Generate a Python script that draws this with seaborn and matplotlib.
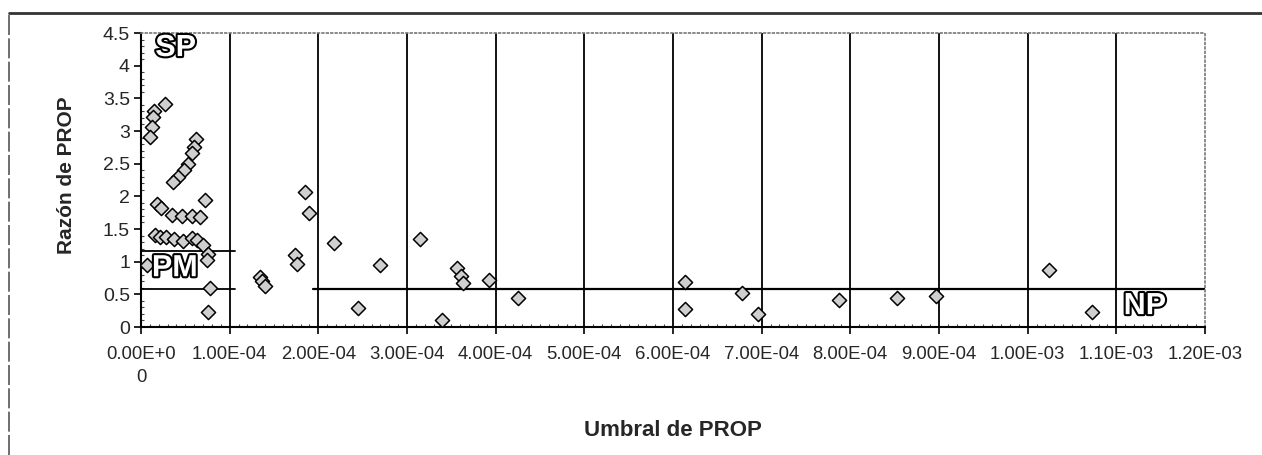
import matplotlib
matplotlib.use("Agg")
import matplotlib.pyplot as plt
import matplotlib.patheffects as pe
from matplotlib.lines import Line2D
from matplotlib.ticker import MultipleLocator
import seaborn as sns
import pandas as pd

# ---- data ----
umbral = [2.7e-5, 1.5e-5, 1.3e-5, 1.2e-5, 1.0e-5, 6.2e-5, 6.0e-5, 5.7e-5, 5.3e-5, 4.8e-5,
          4.2e-5, 3.6e-5, 7.2e-5, 1.8e-5, 2.3e-5, 3.5e-5, 4.6e-5, 5.7e-5, 6.7e-5, 1.6e-5,
          2.1e-5, 2.8e-5, 3.7e-5, 4.7e-5, 5.7e-5, 6.3e-5, 7.0e-5, 7.5e-5, 7.4e-5, 0.7e-5,
          7.8e-5, 7.6e-5,
          1.34e-4, 1.37e-4, 1.40e-4, 1.74e-4, 1.76e-4, 1.85e-4, 1.90e-4, 2.18e-4, 2.45e-4,
          2.69e-4, 3.15e-4, 3.39e-4, 3.56e-4, 3.61e-4, 3.63e-4, 3.93e-4, 4.25e-4, 6.13e-4,
          6.13e-4, 6.78e-4, 6.96e-4, 7.87e-4, 8.53e-4, 8.97e-4, 1.024e-3, 1.072e-3]
razon = [3.42, 3.30, 3.22, 3.06, 2.91, 2.88, 2.76, 2.66, 2.50, 2.40,
         2.30, 2.22, 1.95, 1.88, 1.82, 1.71, 1.70, 1.70, 1.69, 1.41,
         1.38, 1.37, 1.34, 1.32, 1.36, 1.33, 1.25, 1.12, 1.02, 0.95,
         0.59, 0.23,
         0.77, 0.70, 0.62, 1.10, 0.97, 2.07, 1.74, 1.28, 0.29,
         0.95, 1.34, 0.11, 0.90, 0.78, 0.68, 0.72, 0.45, 0.69,
         0.27, 0.52, 0.20, 0.41, 0.45, 0.48, 0.88, 0.23]

x_ticks = [0.0, 1e-4, 2e-4, 3e-4, 4e-4, 5e-4, 6e-4, 7e-4, 8e-4, 9e-4, 1.0e-3, 1.1e-3, 1.2e-3]
x_tick_labels = ["0.00E+0\n0", "1.00E-04", "2.00E-04", "3.00E-04", "4.00E-04", "5.00E-04",
                 "6.00E-04", "7.00E-04", "8.00E-04", "9.00E-04", "1.00E-03", "1.10E-03", "1.20E-03"]
y_ticks = [0, 0.5, 1, 1.5, 2, 2.5, 3, 3.5, 4, 4.5]
y_tick_labels = ["0", "0.5", "1", "1.5", "2", "2.5", "3", "3.5", "4", "4.5"]

# region boundaries
pm_upper = 1.16
pm_lower = 0.58
region_labels = ["SP", "PM", "NP"]
region_x = [0.39e-4, 0.38e-4, 11.32e-4]
region_y = [4.27, 0.90, 0.32]

df = pd.DataFrame({"Umbral de PROP": umbral, "Razón de PROP": razon})

sns.set_style("white")
plt.rcParams["font.family"] = ["Liberation Sans", "DejaVu Sans"]

fig = plt.figure(figsize=(12.62, 4.55), dpi=100)
ax = fig.add_axes([141 / 1262, 1 - 327 / 455, (1205 - 141) / 1262, (327 - 33) / 455])

# outer figure frame (top and left)
fig.add_artist(Line2D([9 / 1262, 1.0], [1 - 13 / 455, 1 - 13 / 455], color="#333333", lw=2,
                      transform=fig.transFigure))
fig.add_artist(Line2D([9 / 1262, 9 / 1262], [0, 1 - 13 / 455], color="#555555", lw=1.2,
                      linestyle=(0, (12, 2)), transform=fig.transFigure))

# vertical grid lines
for xv in x_ticks[1:-1]:
    ax.axvline(xv, color="black", lw=1.3, zorder=1)

# region boundary lines
ax.plot([0, 1.06e-4], [pm_upper, pm_upper], color="black", lw=1.3, zorder=1)
ax.plot([0, 1.06e-4], [pm_lower, pm_lower], color="black", lw=1.3, zorder=1)
ax.plot([1.94e-4, 1.2e-3], [pm_lower, pm_lower], color="black", lw=1.6, zorder=1)

sns.scatterplot(data=df, x="Umbral de PROP", y="Razón de PROP", ax=ax, marker="D",
                s=52, color="#cfcfcf", edgecolor="black", linewidth=1.1, zorder=3)

for lab, xv, yv in zip(region_labels, region_x, region_y):
    ax.text(xv, yv, lab, ha="center", va="center", fontsize=22, fontweight="bold",
            color="white", zorder=5,
            path_effects=[pe.withStroke(linewidth=3, foreground="black")])

ax.set_xlim(0, 1.2e-3)
ax.set_ylim(0, 4.5)
ax.set_xticks(x_ticks)
ax.set_xticklabels(x_tick_labels, fontsize=13.3, linespacing=1.45)
ax.set_yticks(y_ticks)
ax.set_yticklabels(y_tick_labels, fontsize=14)
ax.xaxis.set_minor_locator(MultipleLocator(1e-5))
ax.yaxis.set_minor_locator(MultipleLocator(0.1))
ax.tick_params(axis="x", which="major", direction="out", length=5, width=1.2,
               color="black", bottom=True, pad=9)
ax.tick_params(axis="y", which="major", direction="out", length=5, width=1.2,
               color="black", left=True, pad=3)
ax.tick_params(axis="both", which="minor", direction="in", length=2, width=0.8,
               color="#444444", bottom=True, left=True)

ax.set_xlabel("Umbral de PROP", fontsize=16, fontweight="bold")
ax.xaxis.set_label_coords(0.5, (327 - 430) / 294)
ax.xaxis.label.set_va("center")
ax.set_ylabel("Razón de PROP", fontsize=15, fontweight="bold")
ax.yaxis.set_label_coords((67 - 141) / 1064, (327 - 175) / 294)
ax.yaxis.label.set_va("center")

for side in ["left", "bottom"]:
    ax.spines[side].set_color("black")
    ax.spines[side].set_linewidth(1.5)
for side in ["top", "right"]:
    ax.spines[side].set_color("#777777")
    ax.spines[side].set_linestyle(":")
    ax.spines[side].set_linewidth(1.2)

fig.savefig("out.png", dpi=100, facecolor="white")
